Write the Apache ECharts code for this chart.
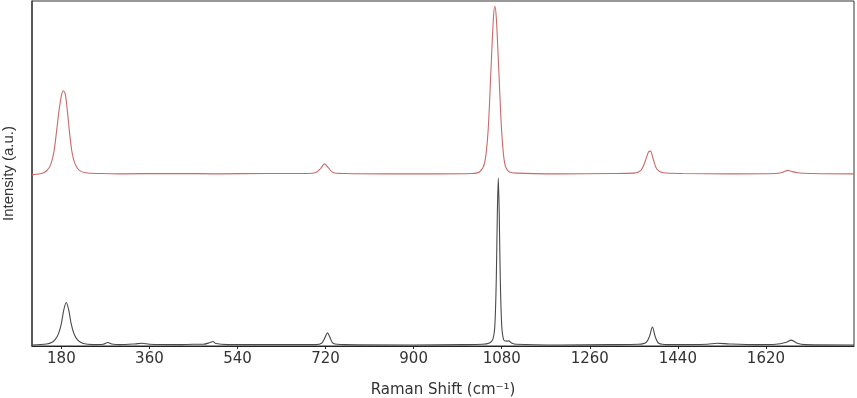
<!DOCTYPE html>
<html>
<head>
<meta charset="utf-8">
<script src="https://cdn.jsdelivr.net/npm/echarts@6/dist/echarts.min.js"></script>
<style>
  html, body { margin: 0; padding: 0; background: #fff; }
  #chart { width: 857px; height: 398px; }
</style>
</head>
<body>
<div id="chart"></div>
<script>
// tick positions on the Raman shift axis
var tickValues = [180, 360, 540, 720, 900, 1080, 1260, 1440, 1620];

// upper trace (red), offset spectrum [shift, intensity]
var upperSpectrum = [
  [120, 49.6], [130, 49.8], [140, 50.0], [150, 50.8], [158, 52.5], [165, 56.5], [170, 62],
  [175, 68], [180, 72.5], [184, 74], [188, 73], [192, 68.5], [197, 61.5], [202, 56],
  [208, 52.8], [216, 51.0], [230, 50.2], [260, 50.0], [300, 49.9], [400, 50.0],
  [500, 49.9], [600, 50.0], [680, 50.0], [700, 50.3], [710, 51.5], [718, 52.8],
  [726, 51.6], [735, 50.3], [760, 50.0], [850, 49.9], [950, 49.9], [1020, 50.0],
  [1035, 50.5], [1045, 53], [1052, 62], [1058, 80], [1063, 95], [1066, 98.5],
  [1069, 95], [1074, 80], [1080, 62], [1086, 53], [1094, 50.6], [1110, 50.1],
  [1200, 49.9], [1300, 50.0], [1350, 50.1], [1365, 51], [1373, 53.5], [1380, 56.2],
  [1384, 56.5], [1390, 54], [1397, 51.3], [1410, 50.2], [1450, 50.0], [1550, 49.9],
  [1640, 50.0], [1655, 50.4], [1665, 50.9], [1670, 50.7], [1685, 50.2], [1710, 50.0],
  [1800, 49.9]
];

// lower trace (grey/black) [shift, intensity]
var lowerSpectrum = [
  [120, 0.3], [150, 0.6], [160, 1.0], [168, 2.0], [174, 3.5], [180, 6.5], [185, 10.5],
  [190, 12.6], [195, 10.5], [200, 6.5], [206, 3.5], [214, 1.6], [225, 0.7], [245, 0.4],
  [265, 0.5], [275, 1.0], [283, 0.6], [300, 0.4], [330, 0.6], [345, 0.8], [360, 0.5],
  [420, 0.4], [450, 0.5], [470, 0.5], [484, 1.0], [490, 1.3], [496, 0.7], [520, 0.4],
  [600, 0.4], [700, 0.4], [712, 0.8], [719, 2.5], [724, 3.8], [729, 2.5], [736, 0.7],
  [760, 0.4], [900, 0.3], [1000, 0.4], [1040, 0.5], [1055, 0.9], [1062, 2], [1066, 6],
  [1069, 20], [1071, 38], [1073, 48.7], [1075, 38], [1077, 20], [1080, 6], [1084, 1.8],
  [1090, 1.4], [1094, 1.5], [1100, 0.9], [1110, 0.5], [1200, 0.3], [1300, 0.4],
  [1360, 0.5], [1375, 1.0], [1382, 2.8], [1388, 5.5], [1394, 2.6], [1401, 0.8],
  [1420, 0.4], [1500, 0.5], [1520, 0.8], [1545, 0.6], [1600, 0.4], [1640, 0.5],
  [1660, 1.0], [1672, 1.7], [1684, 0.8], [1700, 0.4], [1800, 0.3]
];

var chart = echarts.init(document.getElementById('chart'));
chart.setOption({
  animation: false,
  textStyle: { fontFamily: 'DejaVu Sans, sans-serif' },
  grid: {
    left: 32, right: 3, top: 1, bottom: 52,
    outerBoundsMode: 'none', containLabel: false,
    show: true, borderColor: '#333', borderWidth: 1
  },
  xAxis: {
    type: 'value',
    min: 120,
    max: 1800,
    name: 'Raman Shift (cm\u207B\u00B9)',
    nameLocation: 'middle',
    nameGap: 37,
    nameTextStyle: { fontSize: 15, color: '#333' },
    axisLine: { lineStyle: { color: '#222', width: 1 } },
    axisTick: { customValues: tickValues, length: 3, lineStyle: { color: '#222' } },
    axisLabel: {
      customValues: tickValues, fontSize: 15, color: '#333', margin: 6,
      formatter: function (v) { return String(v); }
    },
    splitLine: { show: false }
  },
  yAxis: {
    type: 'value',
    min: 0,
    max: 100,
    name: 'Intensity (a.u.)',
    nameLocation: 'middle',
    nameGap: 16,
    nameTextStyle: { fontSize: 15, color: '#333', fontFamily: 'Liberation Sans, Arial, sans-serif' },
    axisLine: { show: true, lineStyle: { color: '#444', width: 1.5 } },
    axisTick: { show: false },
    axisLabel: { show: false },
    splitLine: { show: false }
  },
  series: [
    {
      type: 'line',
      data: upperSpectrum,
      smooth: 0.3,
      symbol: 'none',
      lineStyle: { color: '#c96a6a', width: 1.1 }
    },
    {
      type: 'line',
      data: lowerSpectrum,
      smooth: 0.3,
      symbol: 'none',
      lineStyle: { color: '#4a4a4a', width: 1.1 }
    }
  ]
});
</script>
</body>
</html>
